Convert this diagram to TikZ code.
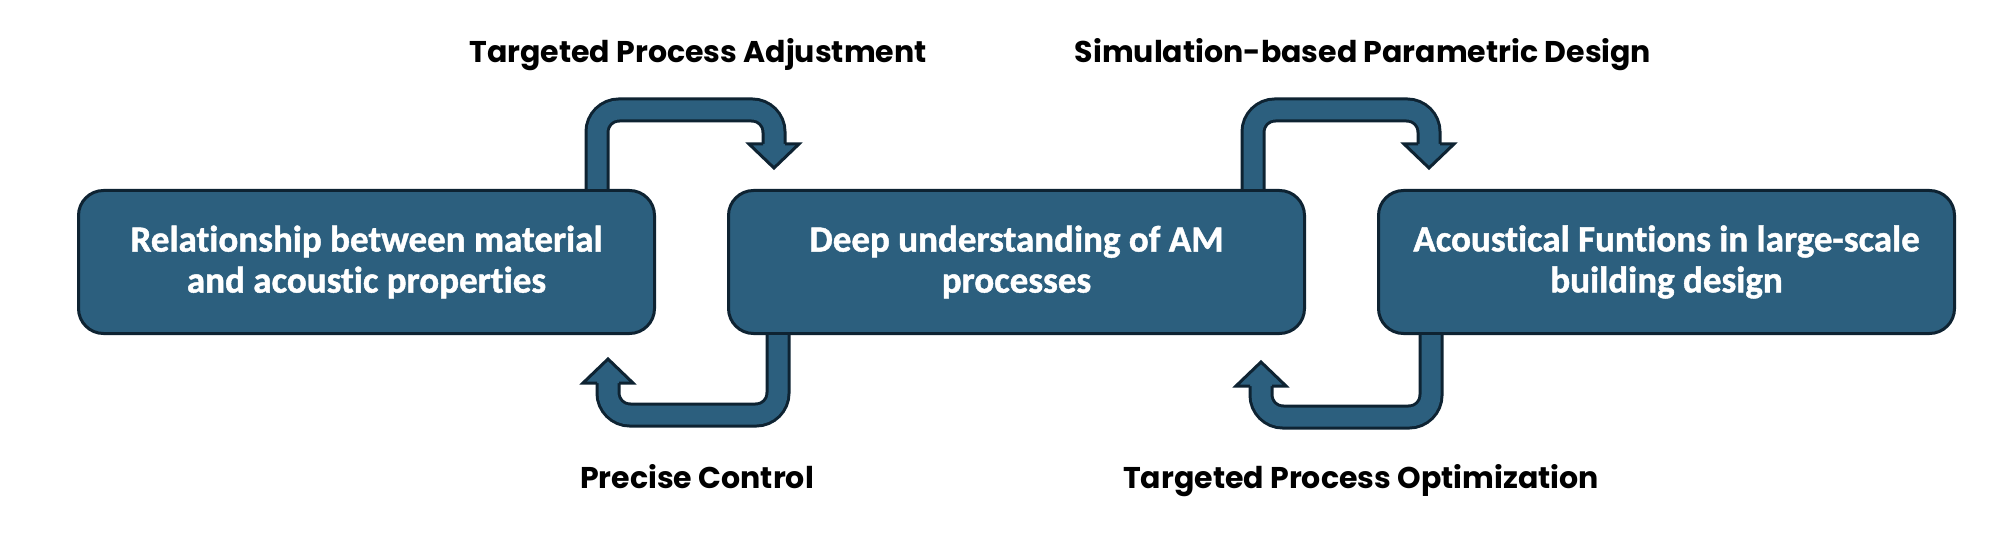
\documentclass[tikz,border=0pt]{standalone}
\usepackage{fontspec}
\newfontfamily\boxfont{Carlito}[Ligatures=NoCommon, BoldFeatures={FakeBold=1.2}]
\newfontfamily\tagfont{Poppins}
\usepackage{xcolor}
\definecolor{boxfill}{HTML}{2C5F7E}
\definecolor{boxline}{HTML}{0E2332}
\usetikzlibrary{positioning, calc}

\begin{document}
\begin{tikzpicture}[
        x=0.5pt, y=-0.5pt,
        node distance=35.5pt,
        stagebox/.style={
            rectangle,
            rounded corners=12.5pt,
            draw=boxline,
            fill=boxfill,
            line width=1.5pt,
            text=white,
            align=center,
            minimum width=288pt,
            minimum height=71.5pt,
            font=\boxfont\bfseries\fontsize{18.5}{20.5}\selectfont
        },
        shaft/.style={
            draw=boxline,
            line width=1.5pt,
            double=boxfill,
            double distance=9.5pt,
            rounded corners=11pt
        },
        headfill/.style={fill=boxfill},
        headline/.style={draw=boxline, line width=1.5pt, line join=miter},
        tag/.style={anchor=base, text=black, font=\tagfont\bfseries\fontsize{15}{18}\selectfont}
    ]
    \useasboundingbox (0,0) rectangle (2012,534);

    % Stage 1: material and acoustics
    \node[stagebox] (rel) at (366.5,262) {Relationship between material\\and acoustic properties};

    % Stage 2: AM processes
    \node[stagebox, right=of rel] (deep) {Deep understanding of AM\\processes};

    % Stage 3: building design
    \node[stagebox, right=of deep] (acou) {Acoustical Funtions in large-scale\\building design};

    % Loop ends
    \coordinate (a1s) at ($(rel.north east)+(-59,0)$);
    \coordinate (a1e) at ($(deep.north west)+(47,-45)$);
    \coordinate (a2s) at ($(deep.south west)+(51,0)$);
    \coordinate (a2e) at ($(rel.south east)+(-48,48)$);
    \coordinate (a3s) at ($(deep.north east)+(-53,0)$);
    \coordinate (a3e) at ($(acou.north west)+(52,-45)$);
    \coordinate (a4s) at ($(acou.south west)+(54,0)$);
    \coordinate (a4e) at ($(deep.south east)+(-45,51)$);

    % Block arrows
    \draw[shaft] (a1s) -- ++(0,-79) -| (a1e);
    \fill[headfill] ($(a1e)+(-25,0)$) -- ($(a1e)+(0,24)$) -- ($(a1e)+(25,0)$) -- cycle;
    \draw[headline] ($(a1e)+(-11,0)$) -- ($(a1e)+(-25,0)$) -- ($(a1e)+(0,24)$) -- ($(a1e)+(25,0)$) -- ($(a1e)+(11,0)$);

    \draw[shaft] (a2s) -- ++(0,80) -| (a2e);
    \fill[headfill] ($(a2e)+(-25,0)$) -- ($(a2e)+(0,-24)$) -- ($(a2e)+(25,0)$) -- cycle;
    \draw[headline] ($(a2e)+(-11,0)$) -- ($(a2e)+(-25,0)$) -- ($(a2e)+(0,-24)$) -- ($(a2e)+(25,0)$) -- ($(a2e)+(11,0)$);

    \draw[shaft] (a3s) -- ++(0,-79) -| (a3e);
    \fill[headfill] ($(a3e)+(-25,0)$) -- ($(a3e)+(0,24)$) -- ($(a3e)+(25,0)$) -- cycle;
    \draw[headline] ($(a3e)+(-11,0)$) -- ($(a3e)+(-25,0)$) -- ($(a3e)+(0,24)$) -- ($(a3e)+(25,0)$) -- ($(a3e)+(11,0)$);

    \draw[shaft] (a4s) -- ++(0,82) -| (a4e);
    \fill[headfill] ($(a4e)+(-25,0)$) -- ($(a4e)+(0,-24)$) -- ($(a4e)+(25,0)$) -- cycle;
    \draw[headline] ($(a4e)+(-11,0)$) -- ($(a4e)+(-25,0)$) -- ($(a4e)+(0,-24)$) -- ($(a4e)+(25,0)$) -- ($(a4e)+(11,0)$);

    % Labels
    \node[tag] (adj) at (698,63) {Targeted Process Adjustment};
    \node[tag] (sim) at (1363,63) {Simulation-based Parametric Design};
    \node[tag] (pre) at (697,488) {Precise Control};
    \node[tag] (opt) at (1361,488) {Targeted Process Optimization};

\end{tikzpicture}
\end{document}
